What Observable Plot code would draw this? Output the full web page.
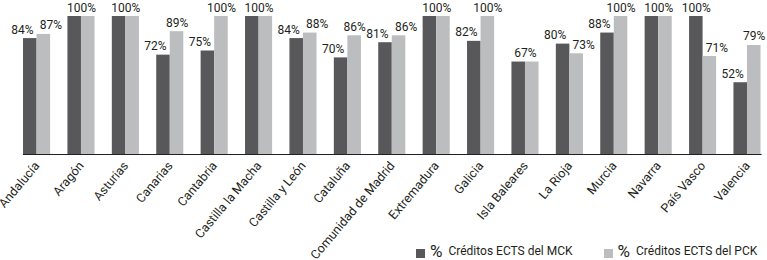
<!DOCTYPE html>
<html>
<head>
<meta charset="utf-8">
<script src="https://cdn.jsdelivr.net/npm/d3@7"></script>
<script src="https://cdn.jsdelivr.net/npm/@observablehq/plot@0.6"></script>
<style>
  body { margin: 0; background: #fff; }
  #wrap { position: relative; width: 767px; height: 260px; font-family: Roboto, sans-serif; color: #231f20; }
  #legend { position: absolute; left: 416px; top: 241px; display: flex; align-items: center; font-size: 12px; white-space: nowrap; }
  .item { display: flex; align-items: center; }
  .item + .item { margin-left: 31px; }
  .sw { width: 9px; height: 9px; display: inline-block; margin-top: 4px; }
  .pct { font-size: 17px; margin-left: 5px; margin-right: 6px; }
</style>
</head>
<body>
<div id="wrap"></div>
<script>
const regions = ["Andalucía","Aragón","Asturias","Canarias","Cantabria","Castilla la Macha","Castilla y León","Cataluña","Comunidad de Madrid","Extremadura","Galicia","Isla Baleares","La Rioja","Murcia","Navarra","País Vasco","Valencia"];
const mck = [84,100,100,72,75,100,84,70,81,100,82,67,80,88,100,100,52];
const pck = [87,100,100,89,100,100,88,86,86,100,100,67,73,100,100,71,79];
const seriesKeys = ["MCK","PCK"];
const seriesLabels = ["Créditos ECTS del MCK","Créditos ECTS del PCK"];
const colors = ["#58585a","#bcbdbf"];

const rows = [];
regions.forEach((r, i) => {
  rows.push({region: r, series: "MCK", value: mck[i], other: pck[i]});
  rows.push({region: r, series: "PCK", value: pck[i], other: mck[i]});
});
const fmt = d => d.value + "%";
const common = {fx: "region", x: "series", y: "value", text: fmt, lineAnchor: "bottom", dy: -5, fontSize: 12, fill: "#231f20"};
// label placement rules (avoid overlaps like the original)
const isPair = d => d.value === d.other;
const darkShift = d => d.series === "MCK" && !isPair(d) && d.value !== 100;
const lightShift = d => d.series === "PCK" && !isPair(d) && d.value !== 100 && d.value - d.other <= 10;
const centered = d => !isPair(d) && (d.value === 100 || (d.series === "PCK" && d.value - d.other > 10));

const chart = Plot.plot({
  width: 767, height: 260,
  marginLeft: 12, marginRight: 0, marginTop: 16, marginBottom: 106,
  style: {fontFamily: "Roboto, sans-serif", fontSize: "12.5px", color: "#231f20", background: "transparent", overflow: "visible"},
  fx: {domain: regions, axis: "bottom", round: false, paddingInner: 0.39, paddingOuter: 0.197, align: 0.63, label: null, tickRotate: -50, tickSize: 0, tickPadding: 9},
  x: {domain: seriesKeys, padding: 0, round: false, axis: null},
  y: {domain: [0, 100], axis: null},
  color: {domain: seriesKeys, range: colors},
  marks: [
    Plot.barY(rows, {fx: "region", x: "series", y: "value", fill: "series"}),
    Plot.text(rows.filter(darkShift), {...common, dx: -8}),
    Plot.text(rows.filter(lightShift), {...common, dx: 7}),
    Plot.text(rows.filter(centered), {...common}),
    Plot.text(rows.filter(d => d.series === "MCK" && isPair(d)), {fx: "region", y: "value", text: fmt, lineAnchor: "bottom", dy: -5, fontSize: 12, fill: "#231f20"}),
    Plot.frame({anchor: "bottom", facet: "super", stroke: "#231f20", strokeWidth: 1.2})
  ]
});
const wrap = document.getElementById("wrap");
wrap.appendChild(chart);

const legend = document.createElement("div");
legend.id = "legend";
seriesKeys.forEach((k, i) => {
  const item = document.createElement("span");
  item.className = "item";
  const sw = document.createElement("span");
  sw.className = "sw";
  sw.style.background = colors[i];
  const pct = document.createElement("span");
  pct.className = "pct";
  pct.textContent = "%";
  const lab = document.createElement("span");
  lab.textContent = seriesLabels[i];
  item.append(sw, pct, lab);
  legend.appendChild(item);
});
wrap.appendChild(legend);
</script>
</body>
</html>
